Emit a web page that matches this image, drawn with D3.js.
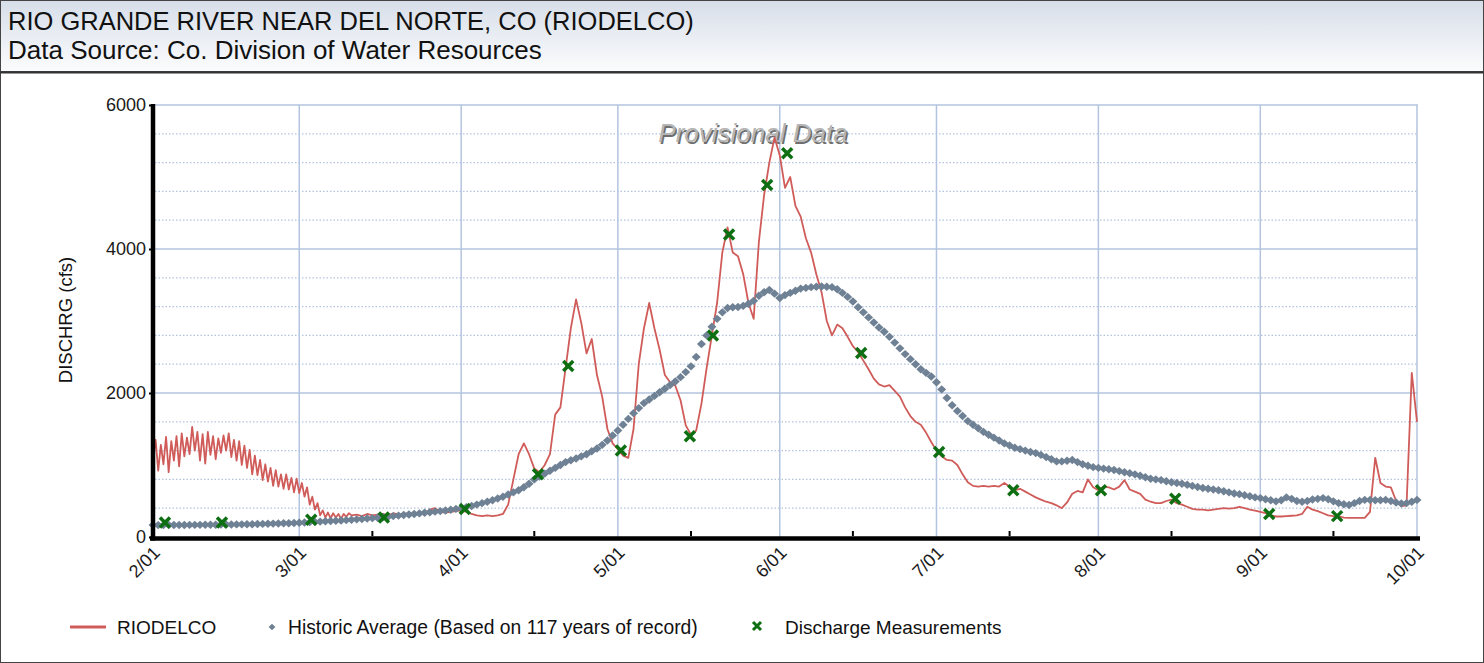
<!DOCTYPE html>
<html><head><meta charset="utf-8">
<script src="https://cdn.jsdelivr.net/npm/d3@7"></script>
<style>
html,body{margin:0;padding:0;background:#fff;}
svg{display:block;font-family:"Liberation Sans",Arial,sans-serif;}
</style></head><body>
<svg id="chart" width="1484" height="663"></svg>
<script>
// ---------------- DATA ----------------
const titleText = "RIO GRANDE RIVER NEAR DEL NORTE, CO (RIODELCO)";
const subtitleText = "Data Source: Co. Division of Water Resources";
const yAxisTitle = "DISCHRG (cfs)";
const watermarkText = "Provisional Data";

const monthTicks = ["2019-02-01","2019-03-01","2019-04-01","2019-05-01","2019-06-01","2019-07-01","2019-08-01","2019-09-01","2019-10-01"];
const monthLabels = ["2/01","3/01","4/01","5/01","6/01","7/01","8/01","9/01","10/01"];
const midMonthTicks = ["2019-03-15","2019-04-15","2019-05-15","2019-06-15","2019-07-15","2019-08-15","2019-09-15"];
const yMajorTicks = [0, 2000, 4000, 6000];
const yMinorTicks = [400,800,1200,1600,2400,2800,3200,3600,4400,4800,5200,5600];

// RIODELCO: every 12 hours, Feb 1 00:00 -> Mar 10 12:00
const riodelcoHalfDaily = [
 1100,1350, 920,1280, 1010,1390, 900,1330, 1060,1400, 980,1440, 1120,1380, 1150,1530,
 1200,1460, 1060,1430, 1020,1460, 1140,1400, 1080,1370, 1170,1410, 1200,1440, 1110,1350,
 1060,1330, 1000,1270, 960,1210, 870,1130, 860,1070, 790,1010, 770,960, 710,930,
 700,870, 670,870, 660,820, 620,810, 610,750, 560,690, 450,560, 380,470,
 300,370, 270,340, 260,330, 270,320, 250,320, 280,330
];
// RIODELCO: daily, Mar 11 -> Oct 1
const riodelcoDaily = [
 // Mar 11-31
 300,310,290,320,300,310,320,300,330,310,320,330,310,340,330,380,400,350,340,350,360,
 // Apr
 370,350,320,300,290,300,290,300,320,450,800,1150,1300,1150,950,900,1000,1150,1700,1800,
 2350,2900,3300,2970,2550,2750,2250,1950,1500,1300,
 // May
 1220,1130,1100,1500,2400,2900,3250,2900,2600,2250,2150,2100,1900,1550,1420,1480,1850,2350,2800,3250,
 3950,4300,3950,3900,3650,3250,3030,4100,4750,5200,5550,
 // Jun
 5300,4850,5000,4600,4450,4150,3950,3650,3400,3000,2800,2950,2900,2780,2650,2570,2450,2330,2200,2120,
 2090,2110,2030,1950,1800,1680,1600,1560,1450,1320,
 // Jul
 1200,1120,1070,1060,1000,870,760,710,700,710,700,710,700,750,700,650,670,630,590,550,
 520,490,470,440,400,480,600,640,620,800,690,
 // Aug
 650,700,690,660,700,790,660,630,600,520,490,470,470,500,520,470,450,420,390,380,
 380,370,380,390,400,395,400,420,400,380,365,
 // Sep
 350,330,300,285,285,290,295,300,320,420,380,360,330,300,290,285,270,265,265,265,
 265,350,1100,750,700,690,500,430,440,2280,
 // Oct 1
 1600
];
// Historic average: daily, Feb 1 -> Oct 1
const historicAverage = [
 // Feb
 165,165,165,166,166,167,167,168,168,169,170,170,171,172,173,174,175,176,177,178,180,182,184,186,188,190,192,195,
 // Mar
 198,202,206,210,214,218,222,226,230,235,240,245,250,256,262,268,275,282,290,297,305,312,320,328,336,344,352,360,368,378,390,
 // Apr
 400,415,430,450,470,490,510,535,560,590,620,650,690,740,800,840,880,920,960,1000,1040,1065,1090,1120,1150,1190,1230,1280,1340,1410,
 // May
 1480,1560,1640,1720,1790,1860,1910,1960,2010,2060,2110,2160,2220,2290,2370,2500,2680,2800,2920,3030,3120,3180,3190,3195,3210,3240,3280,3350,3400,3430,3380,
 // Jun
 3320,3360,3390,3420,3450,3460,3470,3475,3480,3475,3470,3440,3390,3335,3270,3190,3120,3050,2980,2910,2850,2780,2700,2620,2540,2470,2400,2330,2280,2230,
 // Jul
 2150,2050,1930,1830,1750,1680,1610,1560,1510,1460,1420,1380,1340,1300,1270,1240,1220,1200,1180,1165,1140,1110,1080,1050,1050,1060,1070,1040,1010,990,970,
 // Aug
 960,950,940,930,915,900,885,870,850,830,810,800,790,775,760,750,740,725,710,695,680,670,660,650,635,620,605,595,580,565,550,
 // Sep
 540,525,510,495,510,550,530,500,490,500,520,530,540,525,495,470,455,445,470,500,515,515,510,510,515,500,480,465,470,490,
 // Oct 1
 515
];
const measurementTimes = ["2019-02-03 07:00","2019-02-14 05:00","2019-03-03 07:00","2019-03-17 05:00","2019-04-01 17:00",
 "2019-04-15 17:00","2019-04-21 12:00","2019-05-01 14:00","2019-05-14 19:00","2019-05-19 05:00","2019-05-22 07:00",
 "2019-05-29 14:00","2019-06-02 10:00","2019-06-16 14:00","2019-07-01 12:00","2019-07-15 17:00","2019-08-01 12:00",
 "2019-08-15 17:00","2019-09-02 17:00","2019-09-15 17:00"];
const measurementValues = [200,200,240,270,390,870,2375,1200,1400,2800,4200,4890,5330,2555,1180,650,650,530,320,290];

const legendLabels = ["RIODELCO","Historic Average (Based on 117 years of record)","Discharge Measurements"];

// ---------------- DRAW ----------------
const W = 1484, H = 663;
const svg = d3.select("#chart");
const pD = d3.utcParse("%Y-%m-%d");
const pT = d3.utcParse("%Y-%m-%d %H:%M");
const start = pD(monthTicks[0]);

const x = d3.scaleUtc().domain([pD(monthTicks[0]), pD(monthTicks[monthTicks.length-1])]).range([153, 1417]);
const y = d3.scaleLinear().domain([0, 6000]).range([537, 105]);

const red = "#d05c5a", gray = "#6f8194", green = "#0d6e12", grid = "#b3c4de";

// frame + header
const defs = svg.append("defs");
const lg = defs.append("linearGradient").attr("id","hdr").attr("x1",0).attr("y1",0).attr("x2",0).attr("y2",1);
lg.append("stop").attr("offset","0%").attr("stop-color","#d7dee9");
lg.append("stop").attr("offset","100%").attr("stop-color","#fbfcfd");
svg.append("rect").attr("x",0.5).attr("y",0.5).attr("width",W-1).attr("height",H-1).attr("fill","#fff").attr("stroke","#444");
svg.append("rect").attr("x",0.5).attr("y",0.5).attr("width",W-1).attr("height",71).attr("fill","url(#hdr)").attr("stroke","#444");
svg.append("line").attr("x1",0).attr("x2",W).attr("y1",72.5).attr("y2",72.5).attr("stroke","#333").attr("stroke-width",2);
svg.append("text").attr("x",8).attr("y",30).attr("font-size",25.5).attr("fill","#111").text(titleText);
svg.append("text").attr("x",8).attr("y",59).attr("font-size",26).attr("fill","#111").text(subtitleText);

// grid
const g = svg.append("g");
g.selectAll(".hmin").data(yMinorTicks).join("line")
  .attr("x1",155).attr("x2",1417).attr("y1",d=>y(d)).attr("y2",d=>y(d))
  .attr("stroke",grid).attr("stroke-width",1.3).attr("stroke-dasharray","1.5,2");
g.selectAll(".hmaj").data(yMajorTicks.filter(d=>d>0)).join("line")
  .attr("x1",155).attr("x2",1418).attr("y1",d=>y(d)).attr("y2",d=>y(d))
  .attr("stroke",grid).attr("stroke-width",1.5);
g.selectAll(".vmaj").data(monthTicks.slice(1)).join("line")
  .attr("x1",d=>x(pD(d))).attr("x2",d=>x(pD(d))).attr("y1",y(6000)).attr("y2",537)
  .attr("stroke",grid).attr("stroke-width",1.5);

// watermark
const wm = svg.append("g").attr("font-size",26).attr("font-style","italic");
wm.append("text").attr("x",754.5).attr("y",143.5).attr("text-anchor","middle").attr("fill","#6f6f6f").text(watermarkText);
wm.append("text").attr("x",753).attr("y",142).attr("text-anchor","middle").attr("fill","#b5b5b5").text(watermarkText);

// red series
const redPts = riodelcoHalfDaily.map((v,i)=>[d3.utcHour.offset(start,12*i), v])
  .concat(riodelcoDaily.map((v,i)=>[d3.utcDay.offset(start,38+i), v]));
svg.append("path").datum(redPts)
  .attr("d", d3.line().x(d=>x(d[0])).y(d=>y(d[1])))
  .attr("fill","none").attr("stroke",red).attr("stroke-width",1.8).attr("stroke-linejoin","round");

// historic diamonds
const diamond = "M0,-4.2L4.5,0L0,4.2L-4.5,0Z";
svg.append("g").selectAll("path").data(historicAverage).join("path")
  .attr("d",diamond)
  .attr("transform",(v,i)=>`translate(${x(d3.utcDay.offset(start,i))},${y(v)})`)
  .attr("fill",gray);

// measurements
const cross = "M-5,-5L5,5M-5,5L5,-5";
svg.append("g").selectAll("path").data(measurementValues).join("path")
  .attr("d",cross)
  .attr("transform",(v,i)=>`translate(${x(pT(measurementTimes[i]))},${y(v)})`)
  .attr("stroke",green).attr("stroke-width",3.5).attr("fill","none");

// axes
const yAxis = svg.append("g").attr("transform","translate(153,0)")
  .call(d3.axisLeft(y).tickValues(yMajorTicks).tickSize(4).tickSizeOuter(0).tickPadding(3).tickFormat(d3.format("d")));
yAxis.select(".domain").remove();
yAxis.selectAll("text").attr("font-size",18).attr("fill","#1a1a1a").attr("font-family","Liberation Sans, Arial, sans-serif");
yAxis.selectAll("line").attr("stroke","#000").attr("stroke-width",2);
svg.append("line").attr("x1",153).attr("x2",153).attr("y1",104).attr("y2",540.5).attr("stroke","#000").attr("stroke-width",4.5);
svg.append("line").attr("x1",150).attr("x2",1420).attr("y1",538.5).attr("y2",538.5).attr("stroke","#000").attr("stroke-width",4.5);

// mid-month ticks (pointing up)
svg.append("g").selectAll("line").data(midMonthTicks).join("line")
  .attr("x1",d=>x(pD(d))).attr("x2",d=>x(pD(d))).attr("y1",536).attr("y2",531)
  .attr("stroke","#000").attr("stroke-width",2);

// x labels
svg.append("g").selectAll("text").data(monthTicks).join("text")
  .attr("transform",d=>`translate(${x(pD(d))+8},554) rotate(-45)`)
  .attr("text-anchor","end").attr("font-size",18).attr("fill","#1a1a1a")
  .text((d,i)=>monthLabels[i]);

// y title
svg.append("text").attr("transform","translate(72,320) rotate(-90)").attr("text-anchor","middle")
  .attr("font-size",18.5).attr("fill","#111").text(yAxisTitle);

// legend
const lgY = 627;
svg.append("line").attr("x1",70).attr("x2",106).attr("y1",lgY).attr("y2",lgY).attr("stroke",red).attr("stroke-width",3);
svg.append("text").attr("x",117).attr("y",lgY+7).attr("font-size",19).attr("fill","#111").text(legendLabels[0]);
svg.append("path").attr("d",diamond).attr("fill",gray).attr("transform",`translate(272,${lgY}) scale(0.75)`);
svg.append("text").attr("x",288).attr("y",lgY+7).attr("font-size",19.3).attr("fill","#111").text(legendLabels[1]);
svg.append("path").attr("d","M-4,-4L4,4M-4,4L4,-4").attr("transform",`translate(757,${lgY-1})`).attr("stroke",green).attr("stroke-width",3).attr("fill","none");
svg.append("text").attr("x",785).attr("y",lgY+7).attr("font-size",19).attr("fill","#111").text(legendLabels[2]);
</script>
</body></html>
